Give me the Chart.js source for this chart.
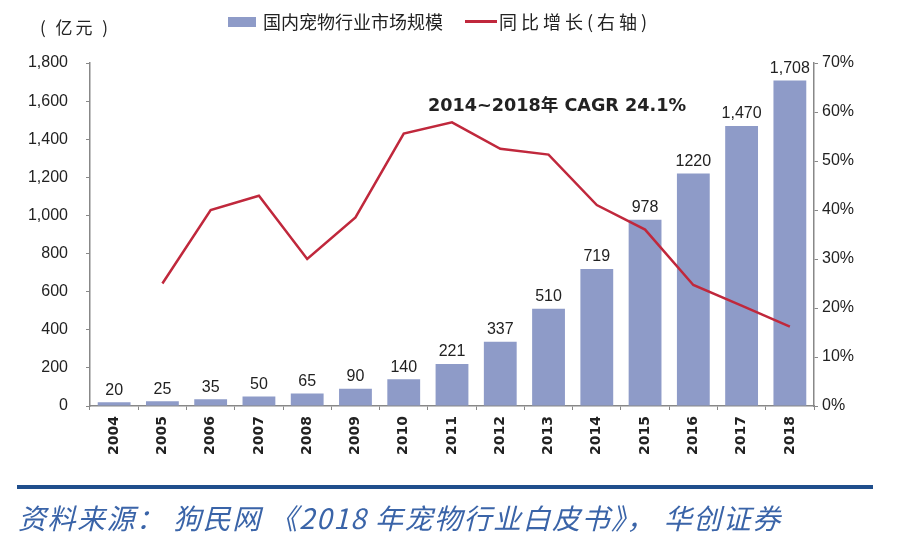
<!DOCTYPE html>
<html>
<head>
<meta charset="utf-8">
<script src="https://cdn.jsdelivr.net/npm/chart.js@4.4.1/dist/chart.umd.min.js"></script>
<style>
    body { margin: 0; background: #fff; }
    #wrap { position: relative; width: 910px; height: 549px; overflow: hidden; }
    #chart { position: absolute; left: 0; top: 0; }
    .txt { position: absolute; white-space: nowrap; color: #222; }
    #unit { left: 40px; top: 14px; font: 17px "Noto Sans CJK SC", sans-serif; letter-spacing: 3px; }
    #leg1 { left: 228px; top: 8px; font: 18px "Noto Sans CJK SC", sans-serif; }
    #leg1 i { display: inline-block; width: 28px; height: 10px; background: #8e9bc8; margin-right: 7px; vertical-align: 2px; }
    #leg2 { left: 465px; top: 8px; font: 18px "Noto Sans CJK SC", sans-serif; letter-spacing: 4px; }
    #leg2 i { display: inline-block; width: 32px; height: 3px; background: #c0283c; margin-right: 2px; vertical-align: 6px; }
    #cagr { left: 428px; top: 91px; font: bold 17.6px "DejaVu Sans", "Noto Sans CJK SC", sans-serif; }
    #rule { position: absolute; left: 17px; top: 485px; width: 856px; height: 4px; background: #1f4e8c; }
    #src { left: 18px; top: 497px; font: italic 28px "Noto Sans CJK SC", serif; color: #3a64a8; letter-spacing: 1.5px; }
</style>
</head>
<body>
<div id="wrap">
    <canvas id="chart" width="910" height="549"></canvas>
    <div class="txt" id="unit">( 亿元 )</div>
    <div class="txt" id="leg1"><i></i>国内宠物行业市场规模</div>
    <div class="txt" id="leg2"><i></i>同比增长(右轴)</div>
    <div class="txt" id="cagr">2014~2018年 CAGR 24.1%</div>
    <div id="rule"></div>
    <div class="txt" id="src">资料来源： 狗民网 《2018 年宠物行业白皮书》， 华创证券</div>
</div>
<script>
let years = ["2004","2005","2006","2007","2008","2009","2010","2011","2012","2013","2014","2015","2016","2017","2018"];
let marketSize = [20, 25, 35, 50, 65, 90, 140, 221, 337, 510, 719, 978, 1220, 1470, 1708];
let sizeLabels = ["20","25","35","50","65","90","140","221","337","510","719","978","1220","1,470","1,708"];
let growth = [null, 25, 40, 42.9, 30, 38.5, 55.6, 57.9, 52.5, 51.3, 41, 36, 24.7, 20.5, 16.2];

// 柱子上的数值
let barLabels = {
    id: "barLabels",
    afterDatasetsDraw(chart){
        let ctx = chart.ctx;
        let meta = chart.getDatasetMeta(1);
        ctx.save();
        ctx.font = "16px 'Liberation Sans', Arial, sans-serif";
        ctx.fillStyle = "#222";
        ctx.textAlign = "center";
        ctx.textBaseline = "bottom";
        meta.data.forEach((bar, i) => {
            ctx.fillText(sizeLabels[i], bar.x, bar.y - 4);
        });
        ctx.restore();
    }
};

let ctx = document.getElementById("chart").getContext("2d");

new Chart(ctx, {
    data: {
        labels: years,
        datasets: [
            {
                type: "line",
                label: "同比增长(右轴)",
                data: growth,
                yAxisID: "y1",
                borderColor: "#c0283c",
                borderWidth: 2.5,
                pointRadius: 0,
                tension: 0,
                fill: false
            },
            {
                type: "bar",
                label: "国内宠物行业市场规模",
                data: marketSize,
                yAxisID: "y",
                backgroundColor: "#8e9bc8",
                barPercentage: 0.68,
                categoryPercentage: 1
            }
        ]
    },
    options: {
        responsive: false,
        animation: false,
        layout: { padding: { top: 63, right: 0, left: 0, bottom: 0 } },
        plugins: { legend: { display: false }, tooltip: { enabled: false } },
        scales: {
            x: {
                grid: { drawOnChartArea: false, tickLength: 4, color: "#888" },
                border: { color: "#888", width: 1.5 },
                ticks: {
                    minRotation: 90, maxRotation: 90,
                    color: "#222",
                    padding: 6,
                    font: { family: "'DejaVu Sans'", size: 14, weight: "bold" }
                },
                afterFit(scale){ scale.height = 143; }
            },
            y: {
                position: "left",
                min: 0, max: 1800,
                ticks: {
                    stepSize: 200,
                    color: "#222",
                    padding: 18,
                    font: { family: "'Liberation Sans', Arial", size: 16 },
                    callback: v => v.toLocaleString("en-US")
                },
                grid: { drawOnChartArea: false, tickLength: 4, color: "#888" },
                border: { color: "#888", width: 1.5 },
                afterFit(scale){ scale.width = 90; }
            },
            y1: {
                position: "right",
                min: 0, max: 70,
                ticks: {
                    stepSize: 10,
                    color: "#222",
                    padding: 4,
                    font: { family: "'Liberation Sans', Arial", size: 16 },
                    callback: v => v + "%"
                },
                grid: { drawOnChartArea: false, tickLength: 4, color: "#888" },
                border: { color: "#888", width: 1.5 },
                afterFit(scale){ scale.width = 96; }
            }
        }
    },
    plugins: [barLabels]
});
</script>
</body>
</html>
